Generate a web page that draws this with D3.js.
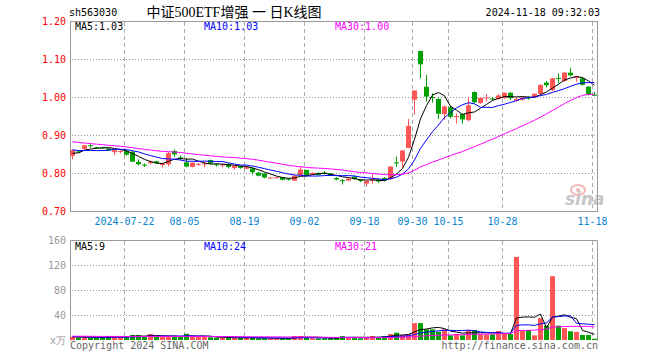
<!DOCTYPE html>
<html>
<head>
<meta charset="utf-8">
<script src="https://cdn.jsdelivr.net/npm/d3@7/dist/d3.min.js"></script>
<style>
body { margin: 0; background: #fff; }
text { font-family: "DejaVu Sans Mono", monospace; font-size: 10px; }
</style>
</head>
<body>
<div id="chart"></div>
<script>
//Trading days on the chart
var dates = [
  "2024-07-09","2024-07-10","2024-07-11","2024-07-12","2024-07-15","2024-07-16","2024-07-17","2024-07-18","2024-07-19",
  "2024-07-22","2024-07-23","2024-07-24","2024-07-25","2024-07-26","2024-07-29","2024-07-30","2024-07-31",
  "2024-08-01","2024-08-02","2024-08-05","2024-08-06","2024-08-07","2024-08-08","2024-08-09","2024-08-12",
  "2024-08-13","2024-08-14","2024-08-15","2024-08-16","2024-08-19","2024-08-20","2024-08-21","2024-08-22",
  "2024-08-23","2024-08-26","2024-08-27","2024-08-28","2024-08-29","2024-08-30","2024-09-02","2024-09-03",
  "2024-09-04","2024-09-05","2024-09-06","2024-09-09","2024-09-10","2024-09-11","2024-09-12","2024-09-13",
  "2024-09-18","2024-09-19","2024-09-20","2024-09-23","2024-09-24","2024-09-25","2024-09-26","2024-09-27",
  "2024-09-30","2024-10-08","2024-10-09","2024-10-10","2024-10-11","2024-10-14","2024-10-15","2024-10-16",
  "2024-10-17","2024-10-18","2024-10-21","2024-10-22","2024-10-23","2024-10-24","2024-10-25","2024-10-28",
  "2024-10-29","2024-10-30","2024-10-31","2024-11-01","2024-11-04","2024-11-05","2024-11-06","2024-11-07",
  "2024-11-08","2024-11-11","2024-11-12","2024-11-13","2024-11-14","2024-11-15","2024-11-18"
];

//OHLC values
var open = [0.845,0.857,0.863,0.873,0.868,0.867,0.865,0.855,0.856,0.858,0.856,0.829,0.822,0.826,0.831,0.821,0.823,0.858,0.841,0.828,0.816,0.822,0.823,0.834,0.823,0.820,0.823,0.813,0.818,0.811,0.812,0.801,0.799,0.786,0.787,0.789,0.785,0.780,0.794,0.808,0.796,0.800,0.801,0.799,0.787,0.781,0.780,0.791,0.782,0.772,0.780,0.783,0.787,0.784,0.828,0.830,0.866,0.993,1.121,1.027,1.000,0.995,0.955,0.973,0.947,0.955,0.939,1.013,0.984,0.997,0.996,0.995,0.997,1.011,0.990,0.993,0.999,0.999,1.008,1.038,1.018,1.050,1.042,1.064,1.050,1.049,1.027,1.006];
var high = [0.862,0.859,0.874,0.878,0.869,0.869,0.866,0.862,0.860,0.860,0.858,0.836,0.825,0.833,0.832,0.827,0.855,0.862,0.846,0.840,0.828,0.826,0.830,0.835,0.824,0.825,0.825,0.821,0.819,0.817,0.815,0.803,0.800,0.789,0.790,0.790,0.787,0.794,0.818,0.809,0.802,0.802,0.805,0.800,0.789,0.784,0.787,0.793,0.784,0.781,0.797,0.785,0.789,0.818,0.843,0.860,0.942,1.018,1.122,1.058,1.010,0.997,0.978,0.977,0.957,0.957,0.999,1.015,1.000,1.008,0.999,1.007,1.012,1.013,0.998,1.000,1.002,1.010,1.033,1.042,1.050,1.062,1.066,1.077,1.055,1.053,1.028,1.013];
var low = [0.836,0.853,0.862,0.866,0.864,0.864,0.858,0.848,0.852,0.846,0.829,0.820,0.816,0.822,0.824,0.814,0.817,0.842,0.834,0.815,0.815,0.819,0.815,0.823,0.817,0.815,0.812,0.808,0.811,0.810,0.796,0.791,0.786,0.785,0.786,0.781,0.780,0.779,0.793,0.793,0.794,0.793,0.796,0.792,0.781,0.770,0.779,0.782,0.776,0.764,0.772,0.774,0.778,0.782,0.816,0.814,0.865,0.953,1.049,0.988,0.985,0.942,0.940,0.944,0.930,0.930,0.936,0.983,0.982,0.988,0.991,0.993,0.995,0.992,0.988,0.990,0.993,0.997,1.006,1.025,1.016,1.036,1.040,1.054,1.040,1.030,1.004,1.003];
var close = [0.860,0.855,0.873,0.871,0.866,0.866,0.859,0.860,0.858,0.848,0.830,0.823,0.820,0.830,0.826,0.825,0.852,0.849,0.839,0.817,0.827,0.824,0.825,0.825,0.821,0.822,0.816,0.819,0.813,0.816,0.802,0.793,0.788,0.788,0.789,0.782,0.783,0.793,0.809,0.794,0.800,0.795,0.799,0.793,0.783,0.780,0.785,0.784,0.779,0.779,0.783,0.778,0.780,0.817,0.826,0.859,0.924,1.017,1.086,1.001,0.998,0.956,0.975,0.948,0.950,0.941,0.978,0.986,0.998,0.999,0.994,1.004,1.011,0.997,0.995,0.999,0.997,1.008,1.032,1.031,1.049,1.048,1.064,1.057,1.053,1.032,1.006,1.004];

//Volume (x 10k)
var volume = [5,4.3,4.3,3.5,3.5,4,6.4,6.4,4.3,5.3,8,8,5.3,9.6,5.3,5.3,6.4,5.3,5.3,10,5.3,5.3,5.3,4.3,3.2,3.2,4.3,3.2,3.2,3.2,4.3,2.7,2.7,2.7,2.7,2.7,2.7,6.4,6.4,4.3,2.7,2.7,2.7,2.7,4.3,6.4,4.3,4.3,2.7,4.3,6.4,4.3,6.4,9.6,11.7,8,9,27,27,17,17,13,17,7.5,9.6,7.5,16,16,9,9,9,14.4,10,9.6,133,16,16,7.5,35,23,102,23,19,14,13,8,8,2];

//Closes and volumes of the 29 days before the window (only feed the moving averages)
var earlierClose = [0.916,0.912,0.918,0.910,0.906,0.908,0.900,0.896,0.899,0.893,0.889,0.886,0.880,0.884,0.878,0.874,0.877,0.872,0.878,0.882,0.875,0.872,0.868,0.870,0.865,0.850,0.838,0.856,0.856];
var earlierVolume = [7.5,6.2,5.8,8.0,6.5,5.4,7.0,6.8,5.9,6.1,7.8,6.4,5.6,6.9,7.2,5.8,6.3,6.0,7.4,6.6,5.5,6.2,5.9,6.7,5.2,4.8,5.6,4.5,5.0];

//Axis ticks and labels
var priceTicks = [0.70, 0.80, 0.90, 1.00, 1.10, 1.20];
var volTicks = [0, 40, 80, 120, 160];
var volTickLabels = ["x万", "40", "80", "120", "160"];
var tickDates = ["2024-07-22","2024-08-05","2024-08-19","2024-09-02","2024-09-18","2024-09-30","2024-10-15","2024-10-28","2024-11-18"];
var tickLabels = ["2024-07-22","08-05","08-19","09-02","09-18","09-30","10-15","10-28","11-18"];
var priceMaText = ["MA5:1.03", "MA10:1.03", "MA30:1.00"];
var volMaText = ["MA5:9", "MA10:24", "MA30:21"];

var svgWidth = 660, svgHeight = 360;
var left = 70, right = 597;
var priceTop = 21, priceBottom = 211;
var volTop = 240, volBottom = 340;

var up = "#ff5555", down = "#00a000";
var maColors = ["#000000", "#0000ff", "#ff00ff"];

var svg = d3.select("#chart").append("svg")
  .attr("width", svgWidth)
  .attr("height", svgHeight);

var x = d3.scaleBand().domain(dates).range([70, 598]);
var yPrice = d3.scaleLinear().domain([0.70, 1.20]).range([priceBottom, priceTop]);
var yVol = d3.scaleLinear().domain([0, 160]).range([volBottom, volTop]);

//moving average over the series with its earlier values in front
function movingAvg(prev, vals, n) {
  var all = prev.concat(vals);
  return vals.map(function(v, i) {
    var end = prev.length + i;
    return d3.mean(all.slice(end - n + 1, end + 1));
  });
}

//grid
function hGrid(scale, ticks) {
  svg.append("g").selectAll("line").data(ticks).join("line")
    .attr("x1", left + 2).attr("x2", right - 1)
    .attr("y1", d => Math.round(scale(d)) + 0.5)
    .attr("y2", d => Math.round(scale(d)) + 0.5)
    .attr("stroke", "#999").attr("stroke-dasharray", "1,2");
}
hGrid(yPrice, [0.80, 0.90, 1.00, 1.10]);
hGrid(yVol, [40, 80, 120]);

function vGrid(y1, y2) {
  svg.append("g").selectAll("line").data(tickDates).join("line")
    .attr("x1", d => x(d) + 0.5).attr("x2", d => x(d) + 0.5)
    .attr("y1", y1).attr("y2", y2)
    .attr("stroke", "#aaa").attr("stroke-dasharray", "4,3");
}
vGrid(priceTop + 1, priceBottom);
vGrid(volTop + 1, volBottom);

//frames
svg.append("rect")
  .attr("x", left + 0.5).attr("y", priceTop + 0.5)
  .attr("width", right - left).attr("height", priceBottom - priceTop)
  .attr("fill", "none").attr("stroke", "#999");
svg.append("path")
  .attr("d", `M${left + 0.5},${volBottom + 1}V${volTop + 0.5}H${right + 0.5}V${volBottom + 1}`)
  .attr("fill", "none").attr("stroke", "#999");

//sina watermark
var logo = svg.append("g").attr("opacity", 0.55);
logo.append("ellipse").attr("cx", 578).attr("cy", 190).attr("rx", 7).attr("ry", 5)
  .attr("fill", "none").attr("stroke", "#e77").attr("stroke-width", 2);
logo.append("circle").attr("cx", 578).attr("cy", 190).attr("r", 2).attr("fill", "#e77");
logo.append("text").attr("x", 565).attr("y", 205)
  .style("font-family", "DejaVu Sans").style("font-size", "17px")
  .style("font-style", "italic").style("font-weight", "bold")
  .attr("fill", "#999").text("sina");

//candles
var idx = d3.range(dates.length);
var candles = svg.append("g").selectAll("g").data(idx).join("g")
  .attr("fill", i => close[i] >= open[i] ? up : down)
  .attr("stroke", i => close[i] >= open[i] ? up : down);
candles.append("line")
  .attr("x1", i => x(dates[i]) + 2.5).attr("x2", i => x(dates[i]) + 2.5)
  .attr("y1", i => yPrice(high[i])).attr("y2", i => yPrice(low[i]));
candles.append("rect")
  .attr("stroke", "none")
  .attr("x", i => x(dates[i]))
  .attr("width", x.bandwidth() - 1)
  .attr("y", i => yPrice(Math.max(open[i], close[i])))
  .attr("height", i => Math.max(1, Math.abs(yPrice(open[i]) - yPrice(close[i]))));

//volume bars
svg.append("g").selectAll("rect").data(idx).join("rect")
  .attr("fill", i => close[i] >= open[i] ? up : down)
  .attr("x", i => x(dates[i]))
  .attr("width", x.bandwidth() - 1)
  .attr("y", i => yVol(volume[i]))
  .attr("height", i => volBottom - yVol(volume[i]));

//moving average lines
[5, 10, 30].forEach(function(n, k) {
  var pm = movingAvg(earlierClose, close, n);
  var vm = movingAvg(earlierVolume, volume, n);
  svg.append("path")
    .attr("d", d3.line().x((v, i) => x(dates[i]) + 2.5).y(v => yPrice(v))(pm))
    .attr("fill", "none").attr("stroke", maColors[k]);
  svg.append("path")
    .attr("d", d3.line().x((v, i) => x(dates[i]) + 2.5).y(v => yVol(v))(vm))
    .attr("fill", "none").attr("stroke", maColors[k]);
});

//axis labels
svg.append("g").selectAll("text").data(priceTicks).join("text")
  .attr("x", 66).attr("y", d => yPrice(d)).attr("dy", "0.35em")
  .attr("text-anchor", "end").attr("fill", "#ff0000")
  .text(d => d.toFixed(2));
svg.append("g").selectAll("text").data(volTicks).join("text")
  .attr("x", 66).attr("y", d => yVol(d)).attr("dy", "0.35em")
  .attr("text-anchor", "end").attr("fill", "#999")
  .text((d, i) => volTickLabels[i]);
svg.append("g").selectAll("text").data(tickDates).join("text")
  .attr("x", d => x(d) + 0.5).attr("y", 225)
  .attr("text-anchor", "middle").attr("fill", "#0a84d0")
  .text((d, i) => tickLabels[i]);

//MA legends
var legendX = [75, 204, 335];
priceMaText.forEach(function(t, k) {
  svg.append("text").attr("x", legendX[k]).attr("y", 30).attr("fill", maColors[k]).text(t);
});
volMaText.forEach(function(t, k) {
  svg.append("text").attr("x", legendX[k]).attr("y", 250).attr("fill", maColors[k]).text(t);
});

//header
svg.append("text").attr("x", 69).attr("y", 16).attr("fill", "#000").text("sh563030");
svg.append("text").attr("x", 234).attr("y", 17).attr("text-anchor", "middle")
  .style("font-family", "'Liberation Serif', 'Noto Sans CJK SC'").style("font-size", "14px")
  .attr("fill", "#000").text("中证500ETF增强 一 日K线图");
svg.append("text").attr("x", 600).attr("y", 16).attr("text-anchor", "end")
  .attr("fill", "#000").text("2024-11-18 09:32:03");

//footer
svg.append("text").attr("x", 70).attr("y", 349).attr("fill", "#666").text("Copyright 2024 SINA.COM");
svg.append("text").attr("x", 598).attr("y", 349).attr("text-anchor", "end")
  .attr("fill", "#666").text("http://finance.sina.com.cn");
</script>
</body>
</html>
